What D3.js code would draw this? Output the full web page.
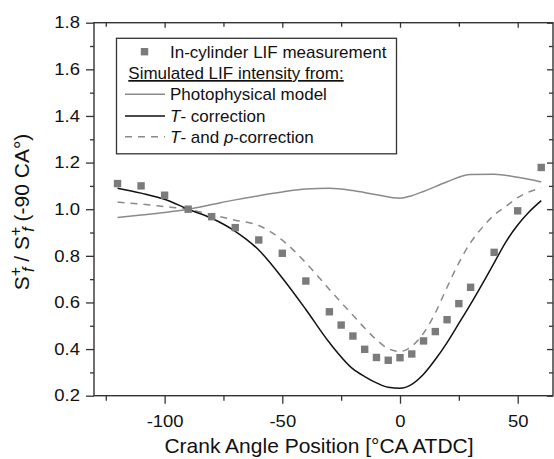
<!DOCTYPE html>
<html>
<head>
<meta charset="utf-8">
<script src="https://cdn.jsdelivr.net/npm/d3@7"></script>
<style>
  body { margin: 0; background: #fff; }
  svg { display: block; font-family: "Liberation Sans", Arial, sans-serif; }
</style>
</head>
<body>
<script>
// measured LIF signal (squares)
var measAngle = [-120, -110, -100, -90, -80, -70, -60, -50, -40, -30, -25, -20, -15, -10, -5, 0, 5, 10, 15, 20, 25, 30, 40, 50, 60];
var measValue = [1.11, 1.10, 1.06, 1.00, 0.968, 0.921, 0.868, 0.811, 0.692, 0.560, 0.503, 0.456, 0.399, 0.364, 0.352, 0.363, 0.379, 0.435, 0.475, 0.526, 0.595, 0.665, 0.815, 0.993, 1.179];

// simulated curves
var photoAngle = [-120, -110, -100, -90, -80, -70, -60, -50, -40, -30, -20, -10, 0, 5, 10, 20, 30, 40, 50, 60];
var photoValue = [0.964, 0.975, 0.986, 1.0, 1.02, 1.04, 1.058, 1.074, 1.087, 1.09, 1.08, 1.062, 1.047, 1.058, 1.076, 1.118, 1.149, 1.15, 1.137, 1.117];

var tAngle = [-120, -110, -100, -90, -80, -70, -60, -50, -40, -30, -20, -15, -10, -5, 0, 5, 10, 15, 20, 25, 30, 35, 40, 45, 50, 55, 60];
var tValue = [1.09, 1.069, 1.043, 1.0, 0.961, 0.905, 0.825, 0.705, 0.57, 0.428, 0.315, 0.282, 0.255, 0.236, 0.232, 0.249, 0.292, 0.355, 0.428, 0.51, 0.593, 0.68, 0.77, 0.86, 0.932, 0.99, 1.037];

var tpAngle = [-120, -110, -100, -90, -80, -70, -60, -50, -40, -30, -20, -15, -10, -5, 0, 5, 10, 15, 20, 25, 30, 35, 40, 45, 50, 55, 60];
var tpValue = [1.03, 1.022, 1.011, 1.0, 0.976, 0.953, 0.93, 0.867, 0.77, 0.656, 0.545, 0.49, 0.44, 0.402, 0.39, 0.412, 0.468, 0.555, 0.665, 0.77, 0.857, 0.922, 0.975, 1.012, 1.05, 1.075, 1.09];

var xMajor = [-100, -50, 0, 50];
var xMinor = [-125, -75, -25, 25];
var yMajor = [0.2, 0.4, 0.6, 0.8, 1.0, 1.2, 1.4, 1.6, 1.8];
var yMinor = [0.3, 0.5, 0.7, 0.9, 1.1, 1.3, 1.5, 1.7];

var legendItems = [
  { kind: "square", label: "In-cylinder LIF measurement" },
  { kind: "header", label: "Simulated LIF intensity from:" },
  { kind: "photo", label: "Photophysical model" },
  { kind: "t", label: "T- correction" },
  { kind: "tp", label: "T- and p-correction" }
];

var width = 554, height = 459;
var pLeft = 94, pRight = 553, pTop = 22.7, pBottom = 395.7;
var frameColor = "#333";

var svg = d3.select("body").append("svg").attr("width", width).attr("height", height);

var x = d3.scaleLinear().domain([-130, 65]).range([pLeft, pRight]);
var y = d3.scaleLinear().domain([0.2, 1.8]).range([pBottom, pTop]);

var fmt = function (d) { return String(d); };
var fmtY = function (d) { return d.toFixed(1); };

// axes - bottom and left outward, top and right inward mirrors
svg.append("g").attr("transform", "translate(0," + pBottom + ")")
  .call(d3.axisBottom(x).tickValues(xMajor).tickFormat(fmt).tickSizeInner(8).tickSizeOuter(0).tickPadding(11.5));
svg.append("g").attr("transform", "translate(0," + pBottom + ")")
  .call(d3.axisBottom(x).tickValues(xMinor).tickFormat("").tickSizeInner(5).tickSizeOuter(0));

svg.append("g").attr("transform", "translate(" + pLeft + ",0)")
  .call(d3.axisLeft(y).tickValues(yMajor).tickFormat(fmtY).tickSizeInner(8).tickSizeOuter(0).tickPadding(4.5));
svg.append("g").attr("transform", "translate(" + pLeft + ",0)")
  .call(d3.axisLeft(y).tickValues(yMinor).tickFormat("").tickSizeInner(4).tickSizeOuter(0));

svg.append("g").attr("transform", "translate(0," + pTop + ")")
  .call(d3.axisTop(x).tickValues(xMajor).tickFormat("").tickSizeInner(-5).tickSizeOuter(0));
svg.append("g").attr("transform", "translate(0," + pTop + ")")
  .call(d3.axisTop(x).tickValues(xMinor).tickFormat("").tickSizeInner(-4).tickSizeOuter(0));
svg.append("g").attr("transform", "translate(" + pRight + ",0)")
  .call(d3.axisRight(y).tickValues(yMajor).tickFormat("").tickSizeInner(-6).tickSizeOuter(0));
svg.append("g").attr("transform", "translate(" + pRight + ",0)")
  .call(d3.axisRight(y).tickValues(yMinor).tickFormat("").tickSizeInner(-4).tickSizeOuter(0));

svg.selectAll(".domain").remove();
svg.selectAll(".tick line").attr("stroke", frameColor).attr("stroke-width", 1.3);
svg.selectAll(".tick text")
  .attr("fill", "#111")
  .style("font-size", "16.5px")
  .style("font-family", "Liberation Sans, Arial, sans-serif")
  .attr("transform", "scale(1.12,1)");

// frame
svg.append("rect")
  .attr("x", pLeft).attr("y", pTop)
  .attr("width", pRight - pLeft).attr("height", pBottom - pTop)
  .attr("fill", "none").attr("stroke", frameColor).attr("stroke-width", 1.4);

// curves
var line = d3.line().x(function (d) { return x(d[0]); }).y(function (d) { return y(d[1]); }).curve(d3.curveMonotoneX);
function pairs(a, b) { return a.map(function (v, i) { return [v, b[i]]; }); }

svg.append("path").datum(pairs(photoAngle, photoValue))
  .attr("d", line).attr("fill", "none").attr("stroke", "#8a8a8a").attr("stroke-width", 1.5);
svg.append("path").datum(pairs(tpAngle, tpValue))
  .attr("d", line).attr("fill", "none").attr("stroke", "#8a8a8a").attr("stroke-width", 1.5)
  .attr("stroke-dasharray", "7,6");
svg.append("path").datum(pairs(tAngle, tValue))
  .attr("d", line).attr("fill", "none").attr("stroke", "#111").attr("stroke-width", 1.5);

var sq = 7.4;
svg.append("g").selectAll("rect")
  .data(pairs(measAngle, measValue)).enter()
  .append("rect")
  .attr("x", function (d) { return x(d[0]) - sq / 2; })
  .attr("y", function (d) { return y(d[1]) - sq / 2; })
  .attr("width", sq).attr("height", sq)
  .attr("fill", "#7b7b7b");

// legend
var lg = svg.append("g");
lg.append("rect")
  .attr("x", 116.5).attr("y", 38.3).attr("width", 280).attr("height", 115.5)
  .attr("fill", "#fff").attr("stroke", frameColor).attr("stroke-width", 1.3);

var rowY = [51.7, 73, 94.3, 116, 136.8];
legendItems.forEach(function (it, i) {
  var cy = rowY[i];
  if (it.kind === "square") {
    lg.append("rect").attr("x", 144.5 - sq / 2).attr("y", cy - sq / 2).attr("width", sq).attr("height", sq).attr("fill", "#7b7b7b");
  } else if (it.kind !== "header") {
    var ln = lg.append("line").attr("x1", 125).attr("x2", 165).attr("y1", cy).attr("y2", cy)
      .attr("stroke-width", 1.5)
      .attr("stroke", it.kind === "t" ? "#111" : "#8a8a8a");
    if (it.kind === "tp") ln.attr("stroke-dasharray", "7,6");
  }
  var t = lg.append("text")
    .attr("x", it.kind === "header" ? 128.3 : 170)
    .attr("y", cy + 6)
    .attr("fill", "#111")
    .style("font-size", "17px");
  if (it.kind === "header") {
    t.text(it.label).attr("text-decoration", "underline");
  } else if (it.kind === "t") {
    t.append("tspan").style("font-style", "italic").text("T");
    t.append("tspan").text("- correction");
  } else if (it.kind === "tp") {
    t.append("tspan").style("font-style", "italic").text("T");
    t.append("tspan").text("- and ");
    t.append("tspan").style("font-style", "italic").text("p");
    t.append("tspan").text("-correction");
  } else {
    t.text(it.label);
  }
});

// axis titles
svg.append("text")
  .attr("x", 319).attr("y", 453)
  .attr("text-anchor", "middle")
  .attr("fill", "#111")
  .style("font-size", "21px")
  .text("Crank Angle Position [°CA ATDC]");

var yt = svg.append("text")
  .attr("transform", "translate(28.5,212) rotate(-90)")
  .attr("text-anchor", "middle")
  .attr("fill", "#111")
  .style("font-size", "21px");
yt.append("tspan").text("S");
yt.append("tspan").attr("dy", -8).style("font-size", "16px").text("+");
yt.append("tspan").attr("dx", -5).attr("dy", 13).style("font-size", "16px").style("font-style", "italic").text("f");
yt.append("tspan").attr("dy", -5).text(" / S");
yt.append("tspan").attr("dy", -8).style("font-size", "16px").text("+");
yt.append("tspan").attr("dx", -5).attr("dy", 13).style("font-size", "16px").style("font-style", "italic").text("f");
yt.append("tspan").attr("dy", -5).text(" (-90 CA°)");
</script>
</body>
</html>
